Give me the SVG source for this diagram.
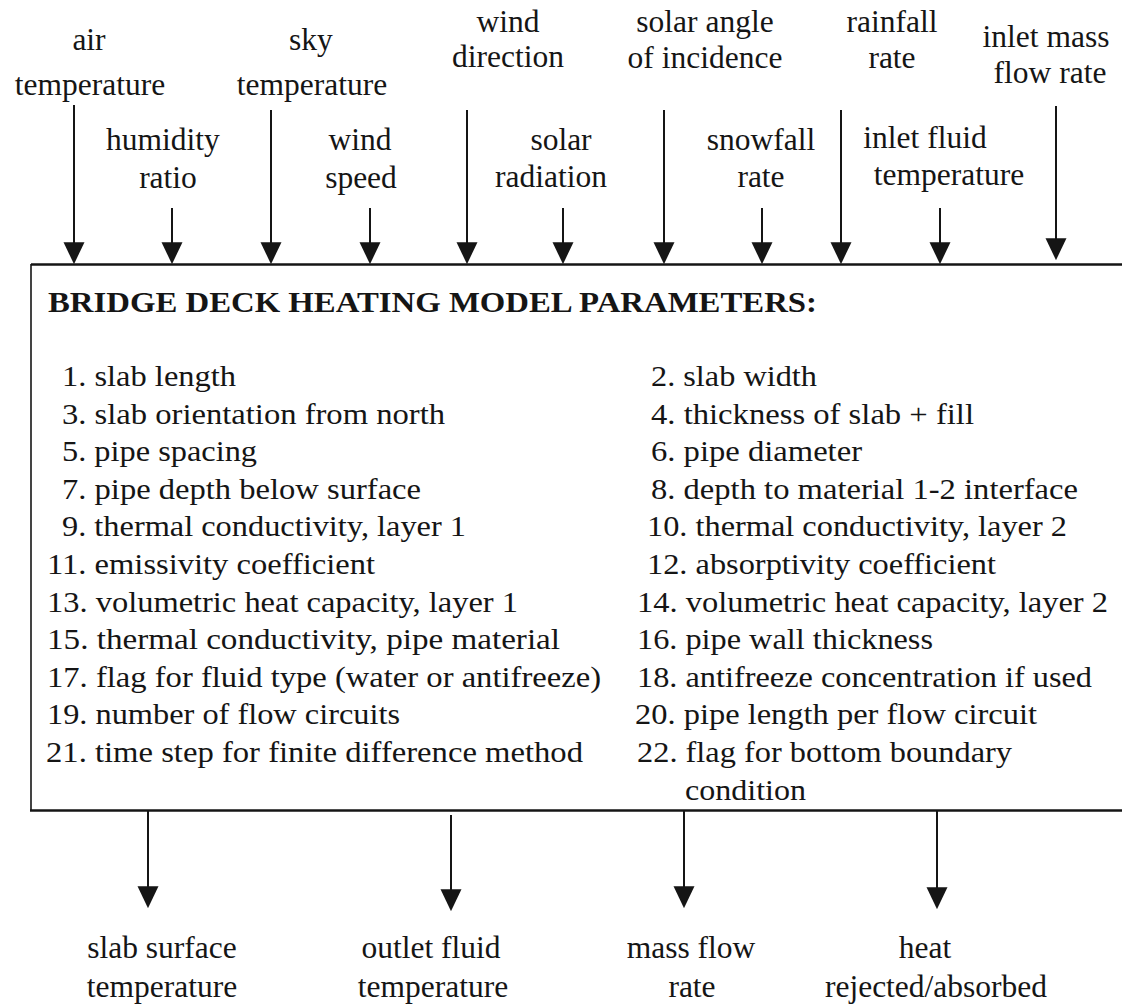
<svg xmlns="http://www.w3.org/2000/svg" width="1122" height="1004" viewBox="0 0 1122 1004">
<style>
text { font-family: "Liberation Serif", "Times New Roman", serif; font-size: 30px; fill: #151515; }
.lbl { text-anchor: middle; font-size: 31.5px; }
.title { font-weight: bold; }
.conn { stroke: #151515; stroke-width: 2; fill: none; marker-end: url(#ah); }
.box { stroke: #151515; fill: none; }
</style>
<defs>
<marker id="ah" markerUnits="userSpaceOnUse" markerWidth="22" markerHeight="22" refX="17" refY="10" orient="auto" viewBox="0 0 21 20">
<path d="M0,0 L21,10 L0,20 z" fill="#151515"/>
</marker>
</defs>
<rect width="1122" height="1004" fill="#ffffff"/>

<g id="model-box">
<path class="box" d="M1122,264.5 H31" stroke-width="2.5"/>
<path class="box" d="M31,264 V811" stroke-width="1.6"/>
<path class="box" d="M30,810.5 H1122" stroke-width="2.5"/>
<text class="title" x="48" y="312" textLength="769" lengthAdjust="spacingAndGlyphs">BRIDGE DECK HEATING MODEL PARAMETERS:</text>
<g id="params-left">
<text x="62" y="386" textLength="174" lengthAdjust="spacingAndGlyphs">1. slab length</text>
<text x="62" y="423.6" textLength="383" lengthAdjust="spacingAndGlyphs">3. slab orientation from north</text>
<text x="62" y="461.2" textLength="195" lengthAdjust="spacingAndGlyphs">5. pipe spacing</text>
<text x="62" y="498.8" textLength="359" lengthAdjust="spacingAndGlyphs">7. pipe depth below surface</text>
<text x="62" y="536.4" textLength="404" lengthAdjust="spacingAndGlyphs">9. thermal conductivity, layer 1</text>
<text x="47" y="574" textLength="328" lengthAdjust="spacingAndGlyphs">11. emissivity coefficient</text>
<text x="47" y="611.6" textLength="471" lengthAdjust="spacingAndGlyphs">13. volumetric heat capacity, layer 1</text>
<text x="47" y="649.2" textLength="513" lengthAdjust="spacingAndGlyphs">15. thermal conductivity, pipe material</text>
<text x="47" y="686.8" textLength="554" lengthAdjust="spacingAndGlyphs">17. flag for fluid type (water or antifreeze)</text>
<text x="47" y="724.4" textLength="353" lengthAdjust="spacingAndGlyphs">19. number of flow circuits</text>
<text x="46" y="762" textLength="537" lengthAdjust="spacingAndGlyphs">21. time step for finite difference method</text>
</g>
<g id="params-right">
<text x="651" y="386" textLength="166" lengthAdjust="spacingAndGlyphs">2. slab width</text>
<text x="651" y="423.6" textLength="323" lengthAdjust="spacingAndGlyphs">4. thickness of slab + fill</text>
<text x="651" y="461.2" textLength="211" lengthAdjust="spacingAndGlyphs">6. pipe diameter</text>
<text x="651" y="498.8" textLength="427" lengthAdjust="spacingAndGlyphs">8. depth to material 1-2 interface</text>
<text x="647" y="536.4" textLength="420" lengthAdjust="spacingAndGlyphs">10. thermal conductivity, layer 2</text>
<text x="647" y="574" textLength="349" lengthAdjust="spacingAndGlyphs">12. absorptivity coefficient</text>
<text x="637" y="611.6" textLength="471" lengthAdjust="spacingAndGlyphs">14. volumetric heat capacity, layer 2</text>
<text x="637" y="649.2" textLength="296" lengthAdjust="spacingAndGlyphs">16. pipe wall thickness</text>
<text x="637" y="686.8" textLength="455" lengthAdjust="spacingAndGlyphs">18. antifreeze concentration if used</text>
<text x="635" y="724.4" textLength="402" lengthAdjust="spacingAndGlyphs">20. pipe length per flow circuit</text>
<text x="637" y="762" textLength="375" lengthAdjust="spacingAndGlyphs">22. flag for bottom boundary</text>
<text x="685" y="799.6" textLength="121" lengthAdjust="spacingAndGlyphs">condition</text>
</g>
</g>

<g id="connectors">
<line class="conn" x1="74" y1="105" x2="74" y2="260" stroke-width="2.5"/>
<line class="conn" x1="172" y1="208" x2="172" y2="260"/>
<line class="conn" x1="271" y1="110" x2="271" y2="260" stroke-width="1.5"/>
<line class="conn" x1="370" y1="208" x2="370" y2="260" stroke-width="2.5"/>
<line class="conn" x1="467" y1="110" x2="467" y2="260" stroke-width="1.5"/>
<line class="conn" x1="563" y1="208" x2="563" y2="260"/>
<line class="conn" x1="664" y1="110" x2="664" y2="260" stroke-width="2.5"/>
<line class="conn" x1="762" y1="208" x2="762" y2="260"/>
<line class="conn" x1="841" y1="110" x2="841" y2="260" stroke-width="2.5"/>
<line class="conn" x1="940" y1="208" x2="940" y2="260" stroke-width="1.5"/>
<line class="conn" x1="1056" y1="106" x2="1056" y2="256" stroke-width="2.5"/>
<line class="conn" x1="148" y1="811" x2="148" y2="904"/>
<line class="conn" x1="451" y1="815" x2="451" y2="907"/>
<line class="conn" x1="684" y1="811" x2="684" y2="904" stroke-width="1.5"/>
<line class="conn" x1="937" y1="811" x2="937" y2="905" stroke-width="1.5"/>
</g>

<g id="air-temperature">
<text class="lbl" x="89" y="50">air</text>
<text class="lbl" x="90" y="95">temperature</text>
</g>
<g id="humidity-ratio">
<text class="lbl" x="163" y="150">humidity</text>
<text class="lbl" x="168" y="188">ratio</text>
</g>
<g id="sky-temperature">
<text class="lbl" x="311" y="50">sky</text>
<text class="lbl" x="312" y="95">temperature</text>
</g>
<g id="wind-speed">
<text class="lbl" x="360" y="150">wind</text>
<text class="lbl" x="361" y="188">speed</text>
</g>
<g id="wind-direction">
<text class="lbl" x="508" y="32">wind</text>
<text class="lbl" x="508" y="67">direction</text>
</g>
<g id="solar-radiation">
<text class="lbl" x="561" y="150">solar</text>
<text class="lbl" x="551" y="187">radiation</text>
</g>
<g id="solar-angle">
<text class="lbl" x="705" y="32">solar angle</text>
<text class="lbl" x="705" y="68">of incidence</text>
</g>
<g id="snowfall-rate">
<text class="lbl" x="761" y="150">snowfall</text>
<text class="lbl" x="761" y="187">rate</text>
</g>
<g id="rainfall-rate">
<text class="lbl" x="892" y="32">rainfall</text>
<text class="lbl" x="892" y="68">rate</text>
</g>
<g id="inlet-fluid-temperature">
<text class="lbl" x="925" y="148">inlet fluid</text>
<text class="lbl" x="949" y="185">temperature</text>
</g>
<g id="inlet-mass-flow-rate">
<text class="lbl" x="1046" y="47">inlet mass</text>
<text class="lbl" x="1050" y="83">flow rate</text>
</g>

<g id="slab-surface-temperature">
<text class="lbl" x="162" y="958">slab surface</text>
<text class="lbl" x="162" y="997">temperature</text>
</g>
<g id="outlet-fluid-temperature">
<text class="lbl" x="431" y="958">outlet fluid</text>
<text class="lbl" x="433" y="997">temperature</text>
</g>
<g id="mass-flow-rate">
<text class="lbl" x="691" y="958">mass flow</text>
<text class="lbl" x="692" y="997">rate</text>
</g>
<g id="heat-rejected-absorbed">
<text class="lbl" x="925" y="958">heat</text>
<text class="lbl" x="936" y="997">rejected/absorbed</text>
</g>
</svg>
